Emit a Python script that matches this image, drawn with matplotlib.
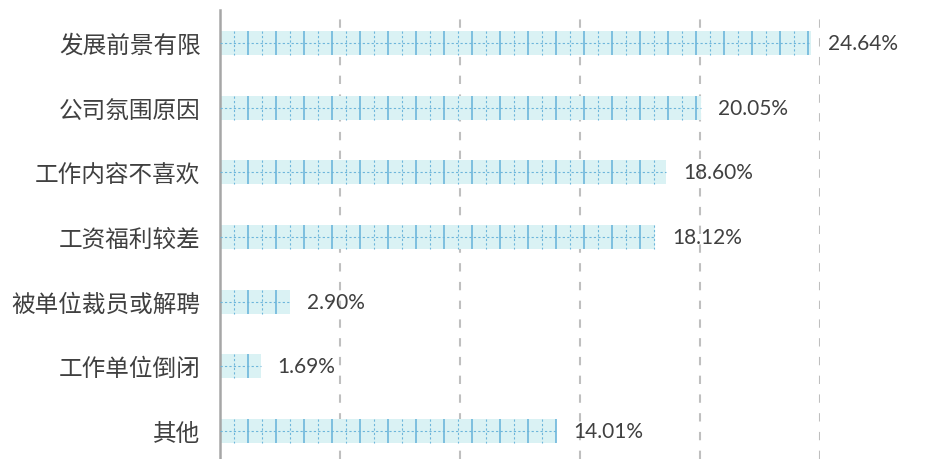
import numpy as np
import matplotlib.pyplot as plt

plt.rcParams['font.family'] = ['Noto Sans CJK SC', 'DejaVu Sans']

categories = ['发展前景有限', '公司氛围原因', '工作内容不喜欢', '工资福利较差',
              '被单位裁员或解聘', '工作单位倒闭', '其他']
values = [24.64, 20.05, 18.60, 18.12, 2.90, 1.69, 14.01]
value_labels = ['24.64%', '20.05%', '18.60%', '18.12%', '2.90%', '1.69%', '14.01%']

W, H = 928, 460
fig = plt.figure(figsize=(W / 100, H / 100), dpi=100)
ax = fig.add_axes([220 / W, 0, 600 / W, 449 / H])

xmax = 25
px_per_unit = 600 / xmax
step = 28 / px_per_unit          # pattern spacing, 28 px
bar_h = 0.37

fill = '#DAF2F4'
line_c = '#6DB6DB'

for gx in [5, 10, 15, 20, 25]:
    ax.axvline(gx, color='#BFBFBF', lw=1.5, ls=(0, (4, 5)), zorder=0)

y = np.arange(len(categories))
ax.barh(y, values, height=bar_h, color=fill, edgecolor='none', zorder=2)

for yi, v, lab in zip(y, values, value_labels):
    y0, y1 = yi - bar_h / 2, yi + bar_h / 2
    solid = np.arange(step, v, step)
    dashed = np.arange(step / 2, v, step)
    ax.vlines(solid, y0, y1, colors=line_c, lw=1.2, zorder=3)
    ax.vlines(dashed, y0, y1, colors=line_c, lw=0.8, linestyles=(0, (2, 2)), zorder=3)
    ax.hlines(yi, 0, v, colors=line_c, lw=0.8, linestyles=(0, (2, 2)), zorder=3)
    ax.text(v + 17 / px_per_unit, yi, lab, va='center', ha='left',
            fontsize=15, color='#404040', family=['Lato', 'DejaVu Sans'],
            clip_on=False)

ax.set_xlim(0, xmax)
ax.set_ylim(6 + 28 / 64.67, -33 / 64.67)
ax.set_yticks(y)
ax.set_yticklabels(categories, fontsize=17, color='#404040', fontweight='light')
ax.tick_params(axis='y', length=0, pad=14)
ax.set_xticks([])
for s in ['top', 'right', 'bottom']:
    ax.spines[s].set_visible(False)
ax.spines['left'].set_color('#A6A6A6')
ax.spines['left'].set_linewidth(1.8)

fig.savefig('out.png', dpi=100)
